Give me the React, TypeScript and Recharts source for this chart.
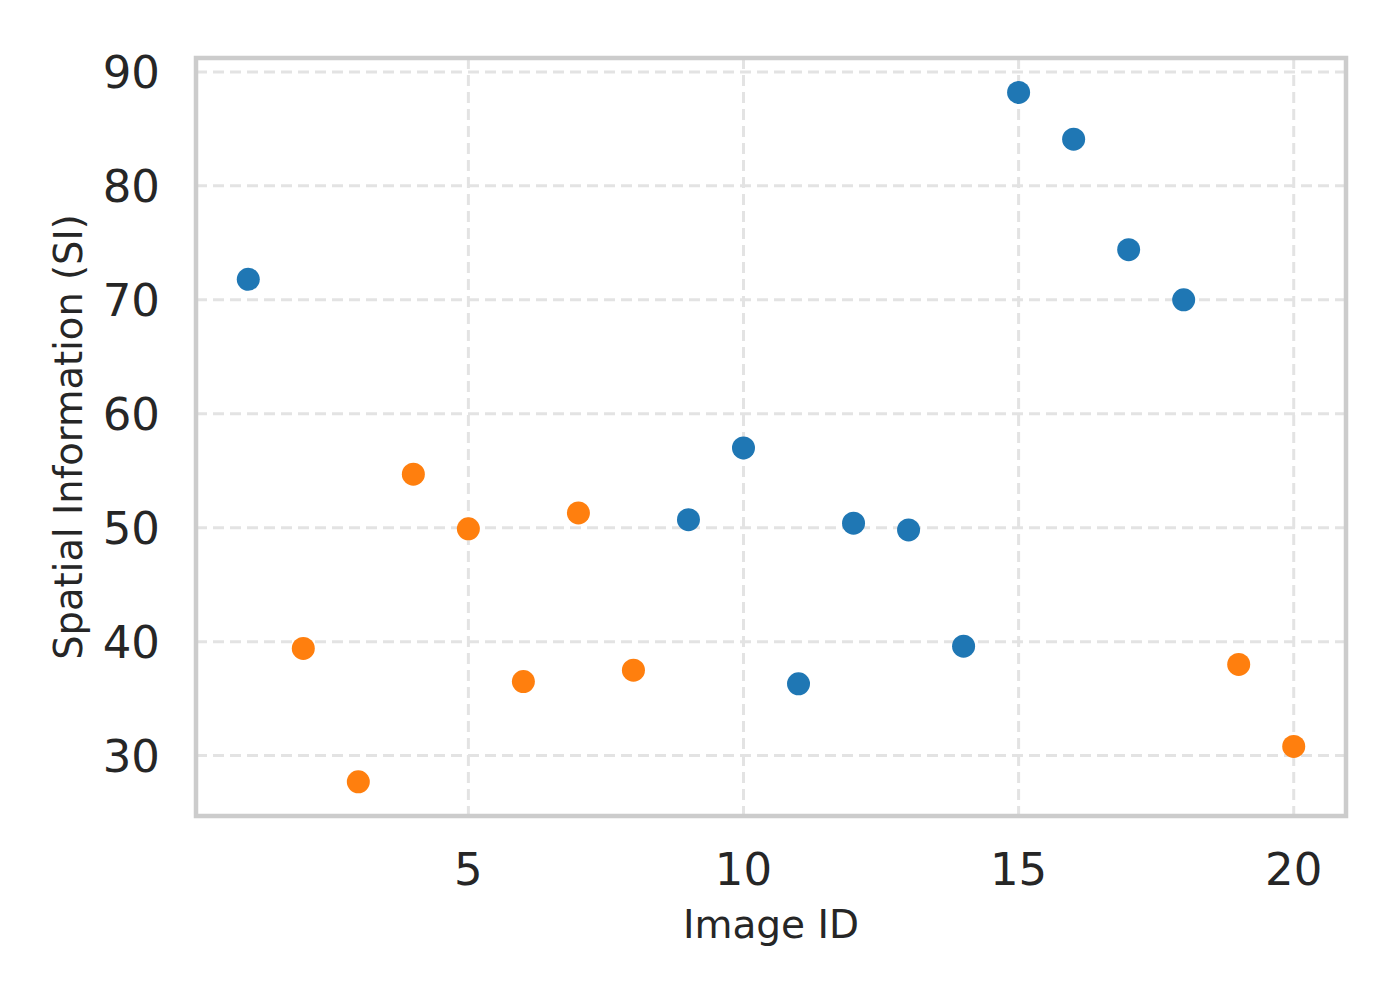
import { ScatterChart, Scatter, XAxis, YAxis, CartesianGrid, ReferenceArea } from "recharts";

const imageIds = [1, 2, 3, 4, 5, 6, 7, 8, 9, 10, 11, 12, 13, 14, 15, 16, 17, 18, 19, 20];
const siValues = [71.8, 39.4, 27.7, 54.7, 49.9, 36.5, 51.3, 37.5, 50.7, 57.0, 36.3, 50.4, 49.8, 39.6, 88.2, 84.1, 74.4, 70.0, 38.0, 30.8];
const groups = ["b", "o", "o", "o", "o", "o", "o", "o", "b", "b", "b", "b", "b", "b", "b", "b", "b", "b", "o", "o"];
const xTicks = [5, 10, 15, 20];
const yTicks = [30, 40, 50, 60, 70, 80, 90];
const xDomain: [number, number] = [0.05, 20.95];
const yDomain: [number, number] = [24.7, 91.22];

const points = imageIds.map((id, i) => ({ x: id, y: siValues[i], g: groups[i] }));
const bluePoints = points.filter((p) => p.g === "b");
const orangePoints = points.filter((p) => p.g === "o");

const textColor = "#262626";
const font = "DejaVu Sans, sans-serif";

function Dot(color: string) {
  return (props: any) => <circle cx={props.cx} cy={props.cy} r={11.5} fill={color} />;
}

export default function App() {
  return (
    <div style={{ position: "absolute", left: 0, top: 0 }}>
      <ScatterChart
        width={1400}
        height={1000}
        margin={{ top: 58, right: 54, left: 0, bottom: 0 }}
        style={{ fontFamily: font }}
      >
        <CartesianGrid strokeDasharray="11 6" stroke="#e3e3e3" strokeWidth={3} />
        <XAxis
          type="number"
          dataKey="x"
          domain={xDomain}
          allowDataOverflow
          ticks={xTicks}
          height={184}
          axisLine={false}
          tickLine={false}
          tickSize={6}
          tickMargin={31}
          tick={{ fill: textColor, fontSize: 45 }}
          label={{
            content: ({ viewBox }: any) => (
              <text
                x={viewBox.x + viewBox.width / 2}
                y={viewBox.y + 122}
                textAnchor="middle"
                fill={textColor}
                fontSize={39}
                fontFamily={font}
              >
                Image ID
              </text>
            ),
          }}
        />
        <YAxis
          type="number"
          dataKey="y"
          domain={yDomain}
          allowDataOverflow
          ticks={yTicks}
          width={196}
          axisLine={false}
          tickLine={false}
          tickSize={6}
          tickMargin={30}
          tick={{ fill: textColor, fontSize: 45 }}
          label={{
            content: ({ viewBox }: any) => {
              const cx = viewBox.x + 68;
              const cy = viewBox.y + viewBox.height / 2;
              return (
                <text
                  x={cx}
                  y={cy}
                  transform={`rotate(-90, ${cx}, ${cy})`}
                  textAnchor="middle"
                  dominantBaseline="central"
                  fill={textColor}
                  fontSize={38.5}
                  fontFamily={font}
                >
                  Spatial Information (SI)
                </text>
              );
            },
          }}
        />
        <Scatter data={bluePoints} fill="#1f77b4" shape={Dot("#1f77b4")} isAnimationActive={false} />
        <Scatter data={orangePoints} fill="#ff7f0e" shape={Dot("#ff7f0e")} isAnimationActive={false} />
        <ReferenceArea
          x1={xDomain[0]}
          x2={xDomain[1]}
          y1={yDomain[0]}
          y2={yDomain[1]}
          fill="none"
          fillOpacity={0}
          stroke="#cccccc"
          strokeWidth={4.5}
          ifOverflow="visible"
        />
      </ScatterChart>
    </div>
  );
}
